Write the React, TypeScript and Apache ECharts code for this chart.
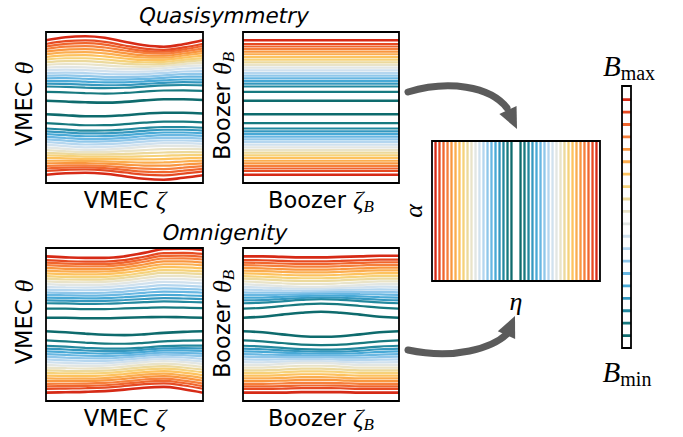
import React, { useEffect, useRef } from "react";
import * as echarts from "echarts";

// ---- data ----
// colours of the 20 |B| levels, index 0 = B_min (teal) ... 19 = B_max (red)
const levelColors = [
  "#0e6b6d", "#17797f", "#23899f", "#3598bf", "#48a9d6",
  "#68b7e2", "#8fc7ea", "#b4d6ef", "#d0e1ee", "#e2e6e3",
  "#e9e3c8", "#ecd99c", "#f6d27a", "#fdc25e", "#fbad4f",
  "#f9963f", "#f67f3b", "#f0652d", "#e64a22", "#d62a16",
];
// Boozer theta of each level contour (theta/pi, upper half; lower half mirrored)
const thetaLevels = [
  0.089, 0.208, 0.278, 0.315, 0.351, 0.387, 0.421, 0.457, 0.493, 0.527,
  0.563, 0.599, 0.633, 0.669, 0.705, 0.739, 0.775, 0.808, 0.841, 0.891,
];
// eta of each level contour in the (eta, alpha) panel (right half; left mirrored)
const etaLevels = [
  0.054, 0.101, 0.149, 0.196, 0.244, 0.292, 0.339, 0.387, 0.435, 0.482,
  0.53, 0.577, 0.625, 0.673, 0.72, 0.768, 0.815, 0.863, 0.911, 0.958,
];
// zeta sample points across each panel
const zetaSamples = [0, 0.125, 0.25, 0.375, 0.5, 0.625, 0.75, 0.875, 1];

// displacement of contours (theta/pi, + = up) read for inner / mid / outer lines
const qsVmecUpperOuter = [0, 0.04, 0.053, 0.033, -0.02, -0.066, -0.086, -0.053, 0];
const qsVmecUpperMid = [0, 0.01, 0.005, -0.01, -0.02, -0.02, -0.005, 0.02, 0.03];
const qsVmecUpperInner = [0, -0.01, -0.02, -0.025, -0.015, 0.005, 0.02, 0.02, 0.01];
const qsVmecLowerInner = [0, -0.013, -0.026, -0.026, -0.013, 0.007, 0.02, 0.02, 0.01];
const qsVmecLowerMid = [0, -0.02, -0.035, -0.03, -0.015, 0.005, 0.02, 0.02, 0.01];
const qsVmecLowerOuter = [0, 0.02, 0.026, 0.013, -0.02, -0.053, -0.066, -0.04, -0.007];

const omVmecUpperOuter = [0, -0.013, -0.02, -0.02, 0.0, 0.045, 0.095, 0.1, 0.085];
const omVmecUpperMid = [0, -0.01, -0.01, -0.005, 0.015, 0.045, 0.07, 0.065, 0.05];
const omVmecUpperInner = [0, 0, -0.007, -0.007, 0, 0.005, 0.01, 0.005, 0];
const omVmecLowerInner = [0, -0.013, -0.03, -0.045, -0.05, -0.04, -0.02, -0.007, 0];
const omVmecLowerMid = [0, -0.01, -0.015, -0.01, 0.01, 0.035, 0.05, 0.035, 0.01];
const omVmecLowerOuter = [0, 0.005, 0.01, 0.02, 0.04, 0.065, 0.075, 0.045, 0.0];

const omBoozUpperOuter = [0, 0, -0.007, -0.013, -0.013, -0.007, 0, 0.007, 0.007];
const omBoozUpperMid = [0, -0.013, -0.026, -0.035, -0.035, -0.026, -0.013, 0, 0];
const omBoozUpperInner = [0, 0.013, 0.04, 0.065, 0.078, 0.065, 0.04, 0.013, 0];
const omBoozLowerInner = [0, -0.013, -0.04, -0.065, -0.072, -0.065, -0.04, -0.013, 0];
const omBoozLowerMid = [0, 0, 0.013, 0.026, 0.026, 0.013, 0, 0, 0];
const omBoozLowerOuter = [0, 0, 0, 0.007, 0.007, 0.007, 0, 0, 0];

const flat = [0, 0, 0, 0, 0, 0, 0, 0, 0];

// ---- helpers ----
function blendDisp(k: number, j: number, inner: number[], mid: number[], outer: number[]) {
  if (k >= 9) {
    const t = (k - 9) / 10;
    return mid[j] * (1 - t) + outer[j] * t;
  }
  const t = k / 9;
  return inner[j] * (1 - t) + mid[j] * t;
}

function panelSeries(
  grid: number,
  up: [number[], number[], number[]],
  lo: [number[], number[], number[]],
  width: number
) {
  const out: any[] = [];
  for (let k = 0; k < thetaLevels.length; k++) {
    for (const sign of [1, -1]) {
      const a = sign > 0 ? up : lo;
      const data = zetaSamples.map((z, j) => [
        z,
        sign * thetaLevels[k] + blendDisp(k, j, a[0], a[1], a[2]),
      ]);
      out.push({
        type: "line",
        xAxisIndex: grid,
        yAxisIndex: grid,
        data,
        smooth: 0.4,
        symbol: "none",
        silent: true,
        lineStyle: { color: levelColors[k], width: k === 19 || k === 0 ? width + 0.4 : width },
        z: 2,
      });
    }
  }
  return out;
}

const SANS = "DejaVu Sans";
const SERIF = "Liberation Serif";

const rich = {
  a: { fontFamily: SANS, fontSize: 22.5, lineHeight: 30, fill: "#000" },
  t: { fontFamily: SANS, fontSize: 21.5, lineHeight: 30, fill: "#000" },
  m: { fontFamily: SERIF, fontSize: 26, fontStyle: "italic", lineHeight: 30, fill: "#000" },
  s: { fontFamily: SERIF, fontSize: 17, fontStyle: "italic", lineHeight: 14, verticalAlign: "bottom", fill: "#000" },
  bb: { fontFamily: SERIF, fontSize: 29, fontStyle: "italic", lineHeight: 34, fill: "#000" },
  r: { fontFamily: SERIF, fontSize: 20, lineHeight: 18, verticalAlign: "bottom", fill: "#000" },
};

function label(text: string, x: number, y: number, rotation = 0, skewX = 0) {
  return {
    type: "text",
    x,
    y,
    rotation,
    skewX,
    style: { text, rich, align: "center", verticalAlign: "middle", fill: "#000" },
  };
}

function arrow(p0: number[], c1: number[], c2: number[], p1: number[], tip: number[]) {
  const dx = tip[0] - p1[0];
  const dy = tip[1] - p1[1];
  const len = Math.hypot(dx, dy);
  const ux = dx / len, uy = dy / len;
  const hw = 9.5;
  const bx = tip[0] - ux * 21, by = tip[1] - uy * 21;
  return [
    {
      type: "bezierCurve",
      shape: { x1: p0[0], y1: p0[1], cpx1: c1[0], cpy1: c1[1], cpx2: c2[0], cpy2: c2[1], x2: p1[0], y2: p1[1] },
      style: { stroke: "#5b5b5b", lineWidth: 7, fill: null, lineCap: "round" },
    },
    {
      type: "polygon",
      shape: { points: [tip, [bx - uy * hw, by + ux * hw], [bx + uy * hw, by - ux * hw]] },
      style: { fill: "#5b5b5b" },
    },
  ];
}

export default function App() {
  const ref = useRef<HTMLDivElement>(null);
  useEffect(() => {
    const chart = echarts.init(ref.current!, null, { renderer: "svg" });
    const grids = [
      { left: 46, top: 32, width: 157, height: 151 },
      { left: 243, top: 32, width: 156, height: 151 },
      { left: 46, top: 248, width: 157, height: 153 },
      { left: 243, top: 248, width: 156, height: 153 },
      { left: 432, top: 141, width: 168, height: 140 },
      { left: 622, top: 86, width: 9, height: 262 },
    ].map((g) => ({ ...g, show: true, borderColor: "#000", borderWidth: 1.8, backgroundColor: "transparent", z: 5 }));

    const xAxis: any[] = [];
    const yAxis: any[] = [];
    for (let i = 0; i < 4; i++) {
      xAxis.push({ type: "value", gridIndex: i, min: 0, max: 1, show: false });
      yAxis.push({ type: "value", gridIndex: i, min: -1, max: 1, show: false });
    }
    xAxis.push({ type: "value", gridIndex: 4, min: -1, max: 1, show: false });
    yAxis.push({ type: "value", gridIndex: 4, min: 0, max: 1, show: false });
    xAxis.push({ type: "value", gridIndex: 5, min: 0, max: 1, show: false });
    yAxis.push({ type: "value", gridIndex: 5, min: 0, max: 21.1, show: false });

    const series: any[] = [
      ...panelSeries(0, [qsVmecUpperInner, qsVmecUpperMid, qsVmecUpperOuter], [qsVmecLowerInner, qsVmecLowerMid, qsVmecLowerOuter], 2.2),
      ...panelSeries(1, [flat, flat, flat], [flat, flat, flat], 2.2),
      ...panelSeries(2, [omVmecUpperInner, omVmecUpperMid, omVmecUpperOuter], [omVmecLowerInner, omVmecLowerMid, omVmecLowerOuter], 2.2),
      ...panelSeries(3, [omBoozUpperInner, omBoozUpperMid, omBoozUpperOuter], [omBoozLowerInner, omBoozLowerMid, omBoozLowerOuter], 2.2),
    ];
    etaLevels.forEach((e, k) => {
      for (const sign of [1, -1]) {
        series.push({
          type: "line", xAxisIndex: 4, yAxisIndex: 4, symbol: "none", silent: true,
          data: [[sign * e, 0], [sign * e, 1]],
          lineStyle: { color: levelColors[k], width: 2.3 }, z: 2,
        });
      }
    });
    levelColors.forEach((c, k) => {
      series.push({
        type: "line", xAxisIndex: 5, yAxisIndex: 5, symbol: "none", silent: true,
        data: [[0, k + 1], [1, k + 1]],
        lineStyle: { color: c, width: 2.8 }, z: 2,
      });
    });

    const graphic: any[] = [
      label("{t|Quasisymmetry}", 224, 16, 0, -0.2),
      label("{t|Omnigenity}", 225, 233, 0, -0.2),
      label("{a|VMEC }{m|θ}", 24, 104, Math.PI / 2),
      label("{a|Boozer }{m|θ}{s|B}", 222, 106, Math.PI / 2),
      label("{a|VMEC }{m|θ}", 24, 322, Math.PI / 2),
      label("{a|Boozer }{m|θ}{s|B}", 222, 324, Math.PI / 2),
      label("{a|VMEC }{m|ζ}", 125, 200),
      label("{a|Boozer }{m|ζ}{s|B}", 321, 200),
      label("{a|VMEC }{m|ζ}", 125, 418),
      label("{a|Boozer }{m|ζ}{s|B}", 321, 418),
      label("{m|α}", 413, 211, Math.PI / 2),
      label("{m|η}", 516, 301),
      label("{bb|B}{r|max}", 629, 66),
      label("{bb|B}{r|min}", 627, 372),
      ...arrow([408, 92], [448, 80], [490, 86], [507, 108], [517, 129]),
      ...arrow([408, 350], [455, 360], [492, 348], [507, 334], [515, 316]),
    ];

    chart.setOption({
      animation: false,
      backgroundColor: "#fff",
      grid: grids,
      xAxis,
      yAxis,
      series,
      graphic,
    });
    return () => chart.dispose();
  }, []);
  return (
    <div
      ref={ref}
      style={{ position: "absolute", left: 0, top: 0, width: 683, height: 437 }}
    />
  );
}
